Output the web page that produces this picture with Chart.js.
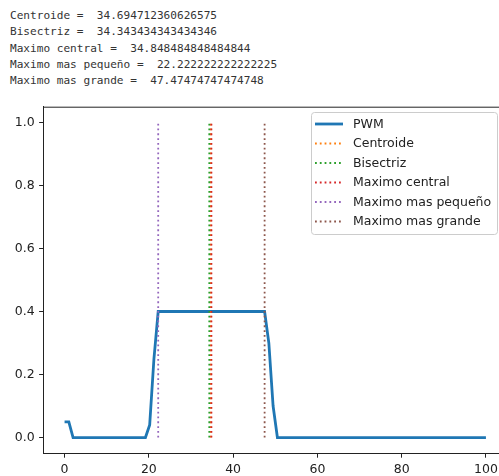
<!doctype html>
<html lang="es">

<head>
    <meta charset="utf-8">
    <title>PWM</title>
    <style>
        * {
            margin: 0;
            padding: 0;
        }

        body {
            width: 499px;
            height: 476px;
            overflow: hidden;
            background: #fff;
            position: relative;
        }

        #salida {
            position: absolute;
            left: 10px;
            top: 8px;
            font-family: "DejaVu Sans Mono", monospace;
            font-size: 11.1px;
            line-height: 16.25px;
            color: #333;
            white-space: pre;
        }

        #grafico {
            position: absolute;
            left: 0;
            top: 90px;
        }
    </style>
</head>

<body>
    <div id="salida"></div>
    <canvas id="grafico" width="520" height="386"></canvas>
    <script src="https://cdn.jsdelivr.net/npm/chart.js/dist/chart.umd.min.js"></script>
    <script>
        // datos
        const pwmX = [0, 1.01, 2.02, 19.19, 20.20, 21.21, 22.22, 47.47, 48.48, 49.49, 50.51, 100];
        const pwmY = [0.05, 0.05, 0, 0, 0.04, 0.25, 0.4, 0.4, 0.30, 0.10, 0, 0];

        const nombres = ['Centroide', 'Bisectriz', 'Maximo central', 'Maximo mas pequeño', 'Maximo mas grande'];
        const valores = [34.694712360626575, 34.343434343434346, 34.848484848484844, 22.222222222222225, 47.47474747474748];
        const colores = ['#ff7f0e', '#2ca02c', '#d62728', '#9467bd', '#8c564b'];

        const xTicks = [0, 20, 40, 60, 80, 100];
        const yTicks = [0, 0.2, 0.4, 0.6, 0.8, 1.0];

        // texto de salida
        document.getElementById('salida').textContent =
            nombres.map((n, i) => n + ' =  ' + String(valores[i])).join('\n');

        const fuente = { family: 'DejaVu Sans', size: 12.5 };

        const datasets = [{
            label: 'PWM',
            data: pwmX.map((x, i) => ({ x: x, y: pwmY[i] })),
            borderColor: '#1f77b4',
            borderWidth: 2.8,
            pointRadius: 0,
            tension: 0,
            order: 10
        }];
        nombres.forEach((n, i) => {
            datasets.push({
                label: n,
                data: [{ x: valores[i], y: 0 }, { x: valores[i], y: 1 }],
                borderColor: colores[i],
                borderWidth: 1.8,
                borderDash: [1.8, 3],
                pointRadius: 0,
                order: 5 - i
            });
        });

        // bordes superior y derecho
        const marco = {
            id: 'marco',
            afterDatasetsDraw(chart) {
                const { ctx, chartArea: a } = chart;
                ctx.save();
                ctx.strokeStyle = '#222';
                ctx.lineWidth = 1;
                ctx.beginPath();
                ctx.moveTo(a.left, a.top + 0.5);
                ctx.lineTo(a.right, a.top + 0.5);
                ctx.lineTo(a.right, a.bottom);
                ctx.stroke();
                ctx.restore();
            }
        };

        // leyenda estilo matplotlib
        const leyenda = {
            id: 'leyenda',
            afterDraw(chart) {
                const { ctx } = chart;
                const x0 = 311.5, y0 = 22.5, w = 186, h = 122;
                ctx.save();
                ctx.fillStyle = 'rgba(255,255,255,0.8)';
                ctx.strokeStyle = '#cccccc';
                ctx.lineWidth = 1;
                ctx.beginPath();
                ctx.roundRect(x0, y0, w, h, 3);
                ctx.fill();
                ctx.stroke();
                ctx.font = '12.5px "DejaVu Sans"';
                ctx.textBaseline = 'middle';
                ctx.fillStyle = '#222';
                chart.data.datasets.forEach((ds, i) => {
                    const y = 34 + i * 19.5;
                    ctx.strokeStyle = ds.borderColor;
                    ctx.lineWidth = ds.borderWidth;
                    ctx.setLineDash(ds.borderDash || []);
                    ctx.beginPath();
                    ctx.moveTo(315, y);
                    ctx.lineTo(343, y);
                    ctx.stroke();
                    ctx.setLineDash([]);
                    ctx.fillText(ds.label, 353, y + 0.5);
                });
                ctx.restore();
            }
        };

        const ejeComun = {
            type: 'linear',
            grid: {
                display: true,
                drawOnChartArea: false,
                drawTicks: true,
                tickLength: 4.4,
                tickColor: '#222',
                tickWidth: 1
            },
            border: { display: true, color: '#222', width: 1 },
        };

        new Chart(document.getElementById('grafico'), {
            type: 'line',
            data: { datasets: datasets },
            options: {
                responsive: false,
                animation: false,
                devicePixelRatio: 1,
                layout: { padding: { top: 16.7, right: 13, left: 0, bottom: 0 } },
                plugins: { legend: { display: false }, tooltip: { enabled: false } },
                scales: {
                    x: {
                        ...ejeComun,
                        min: -5,
                        max: 105,
                        afterBuildTicks: s => { s.ticks = xTicks.map(v => ({ value: v })); },
                        afterFit: s => { s.height = 22.7; },
                        ticks: { font: fuente, color: '#222', padding: 4.5, maxRotation: 0, autoSkip: false }
                    },
                    y: {
                        ...ejeComun,
                        min: -0.05,
                        max: 1.05,
                        afterBuildTicks: s => { s.ticks = yTicks.map(v => ({ value: v })); },
                        afterFit: s => { s.width = 43.5; },
                        ticks: { font: fuente, color: '#222', padding: 4.4, callback: v => v.toFixed(1) }
                    }
                }
            },
            plugins: [marco, leyenda]
        });
    </script>
</body>

</html>
